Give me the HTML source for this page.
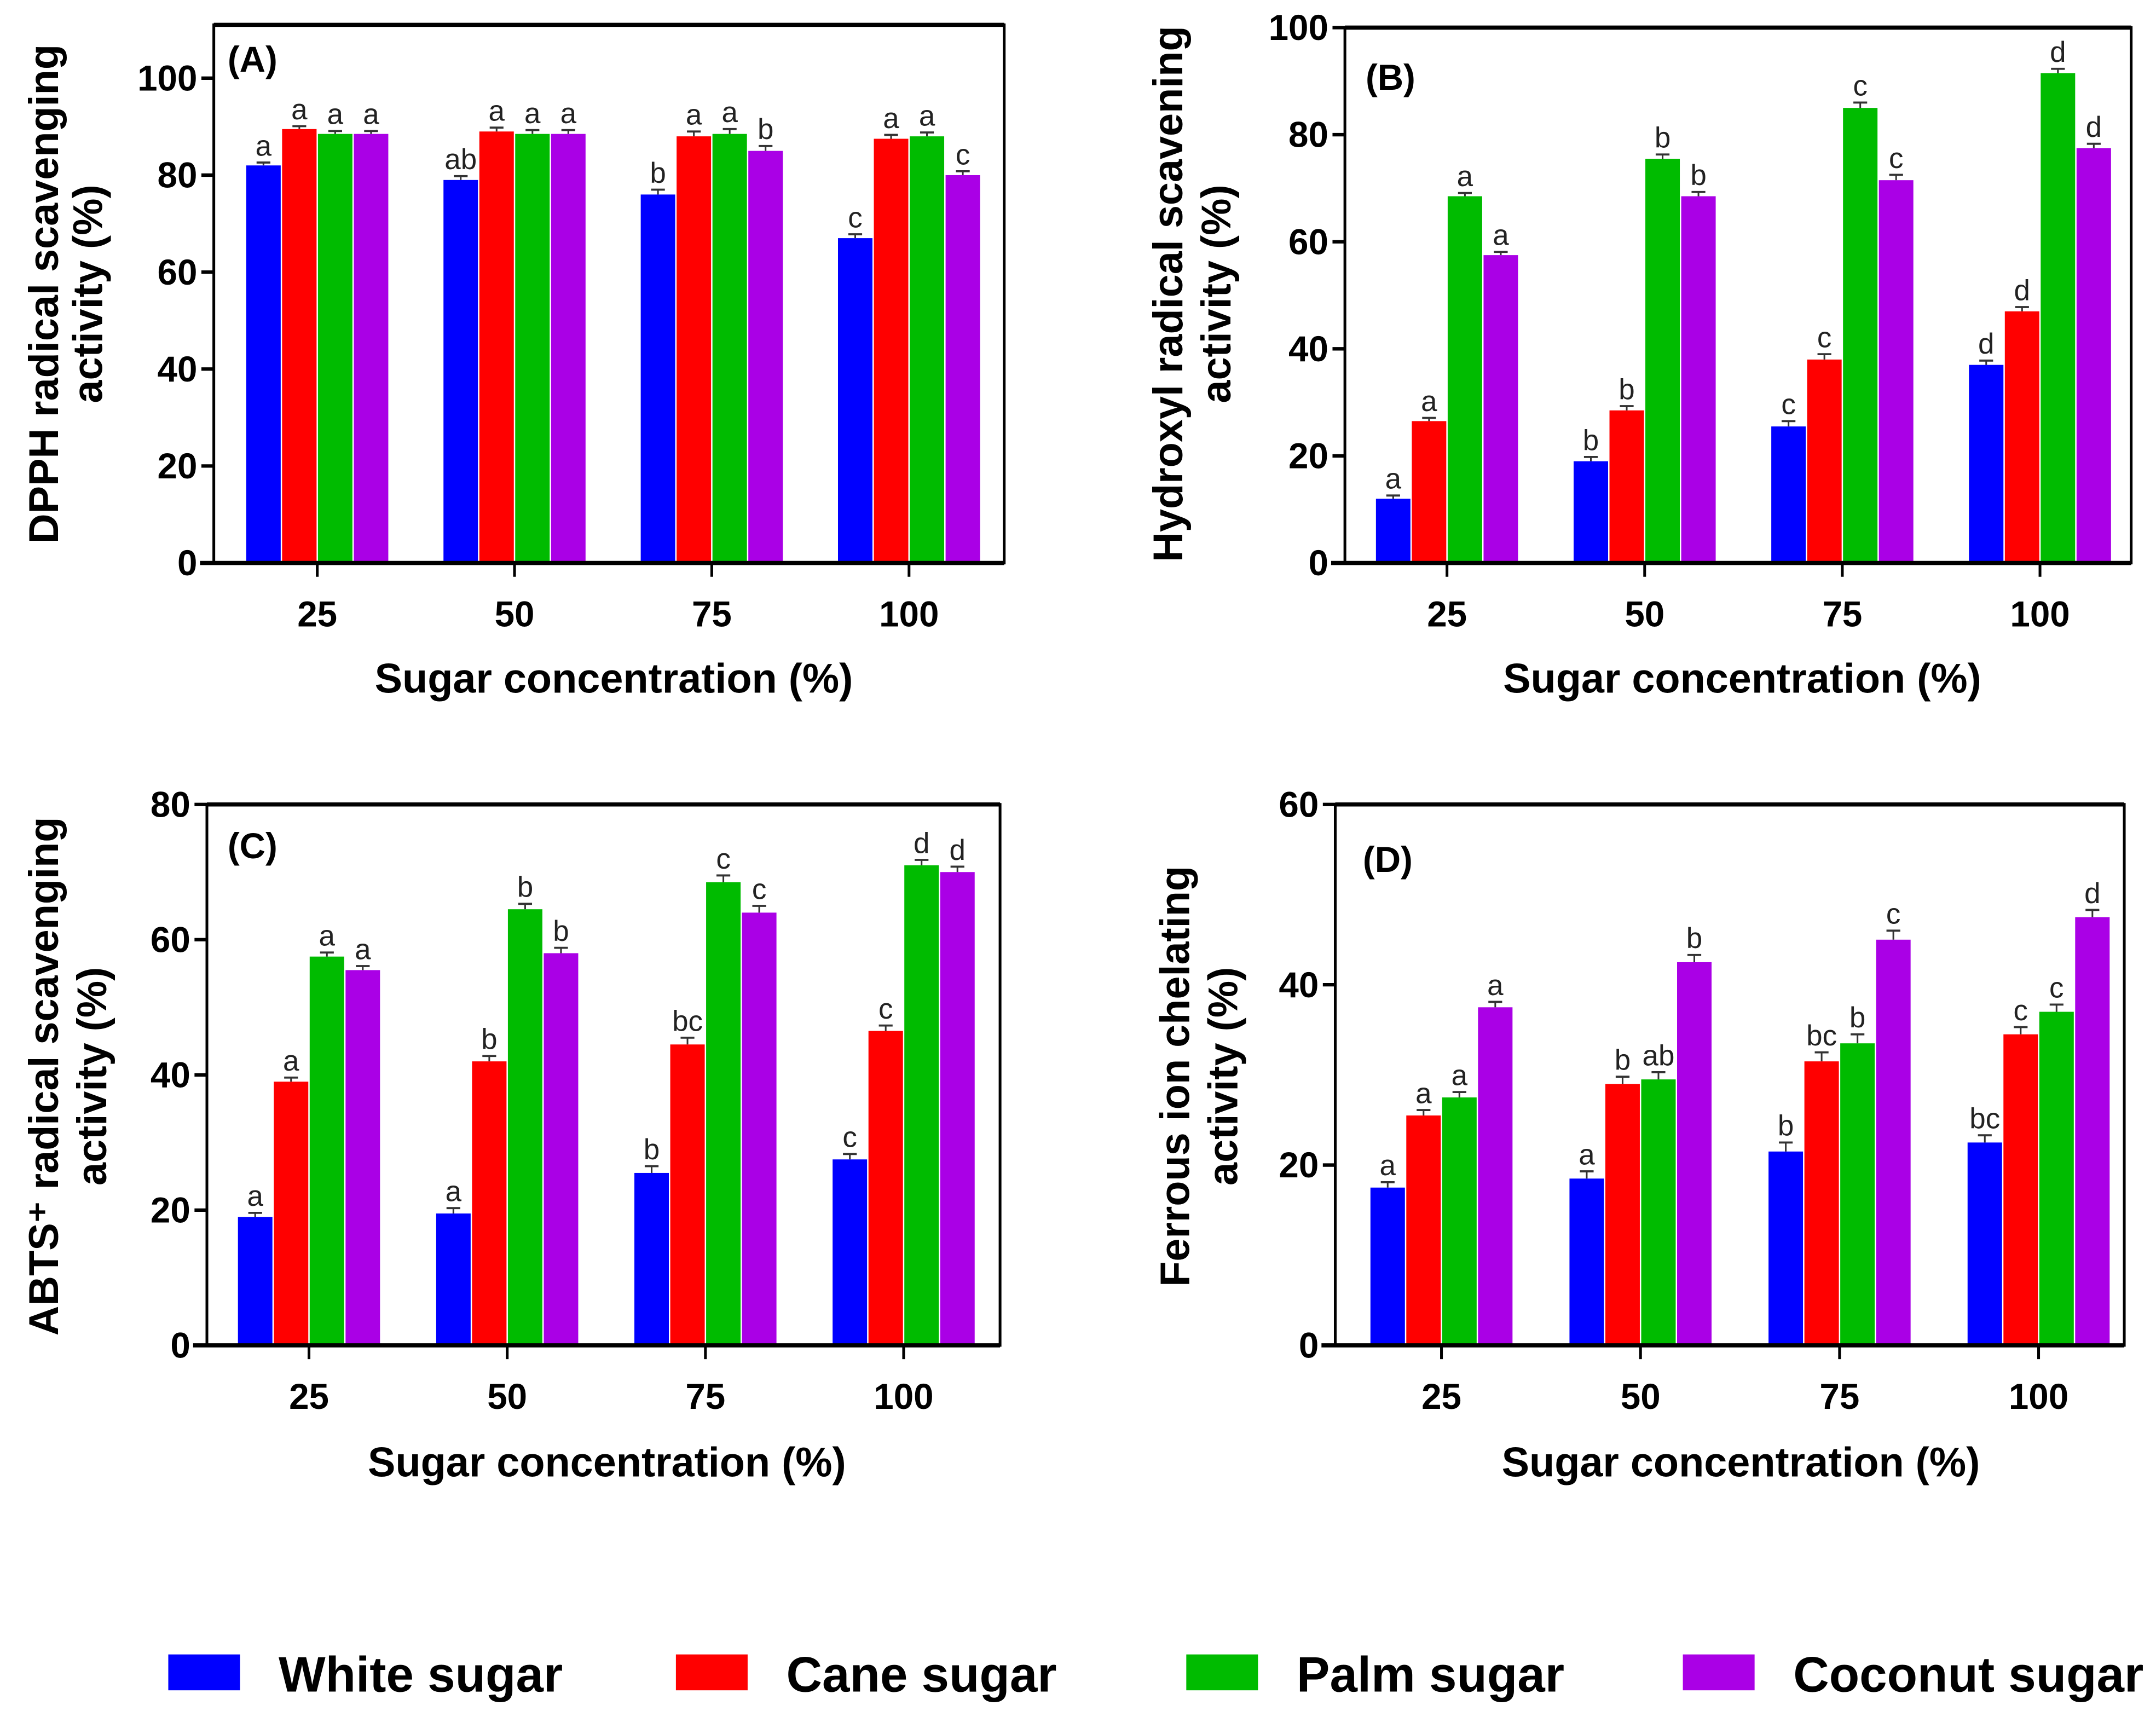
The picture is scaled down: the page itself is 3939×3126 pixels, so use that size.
<!DOCTYPE html>
<html><head><meta charset="utf-8"><style>html,body{margin:0;padding:0;background:#fff}svg{display:block}</style></head>
<body>
<svg id="fig" width="3939" height="3126" viewBox="0 0 1563 1240" preserveAspectRatio="none" xmlns="http://www.w3.org/2000/svg" font-family="Liberation Sans, Arial, sans-serif" font-weight="bold"></svg>
<script>
const categories = ["25","50","75","100"];
const seriesNames = ["White sugar","Cane sugar","Palm sugar","Coconut sugar"];
const aWhite=[82,79,76,67], aCane=[89.5,89,88,87.5], aPalm=[88.5,88.5,88.5,88], aCoco=[88.5,88.5,85,80];
const aLetters=[["a","ab","b","c"],["a","a","a","a"],["a","a","a","a"],["a","a","b","c"]];
const bWhite=[12,19,25.5,37], bCane=[26.5,28.5,38,47], bPalm=[68.5,75.5,85,91.5], bCoco=[57.5,68.5,71.5,77.5];
const bLetters=[["a","b","c","d"],["a","b","c","d"],["a","b","c","d"],["a","b","c","d"]];
const cWhite=[19,19.5,25.5,27.5], cCane=[39,42,44.5,46.5], cPalm=[57.5,64.5,68.5,71], cCoco=[55.5,58,64,70];
const cLetters=[["a","a","b","c"],["a","b","bc","c"],["a","b","c","d"],["a","b","c","d"]];
const dWhite=[17.5,18.5,21.5,22.5], dCane=[25.5,29,31.5,34.5], dPalm=[27.5,29.5,33.5,37], dCoco=[37.5,42.5,45,47.5];
const dLetters=[["a","a","b","bc"],["a","b","bc","c"],["a","ab","b","c"],["a","b","c","d"]];
const errVals=[0.6,0.8,1.0,0.8];
const aTicks=[0,20,40,60,80,100], bTicks=[0,20,40,60,80,100], cTicks=[0,20,40,60,80], dTicks=[0,20,40,60];

const colors=["#0000ff","#ff0000","#00bb00","#aa00e6"];
const NS="http://www.w3.org/2000/svg";
const svg=document.getElementById('fig');
function el(tag,attrs,parent){const e=document.createElementNS(NS,tag);for(const k in attrs)e.setAttribute(k,attrs[k]);(parent||svg).appendChild(e);return e;}

const panels=[
 {id:"a",label:"(A)",series:[aWhite,aCane,aPalm,aCoco],letters:aLetters,ticks:aTicks,ymax:111,L:155,R:728,T:18,B:408,x0:230,dx:143,lab:[165,52],yt:["DPPH radical scavenging","activity (%)"],ytx:[32,64],yc:213,xt:[445,502]},
 {id:"b",label:"(B)",series:[bWhite,bCane,bPalm,bCoco],letters:bLetters,ticks:bTicks,ymax:100,L:975,R:1545,T:20,B:408,x0:1049,dx:143.3,lab:[990,65],yt:["Hydroxyl radical scavening","activity (%)"],ytx:[847,882],yc:213,xt:[1263,502]},
 {id:"c",label:"(C)",series:[cWhite,cCane,cPalm,cCoco],letters:cLetters,ticks:cTicks,ymax:80,L:150,R:725,T:583,B:975,x0:224,dx:143.7,lab:[165,622],yt:["ABTS\u207A radical scavenging","activity (%)"],ytx:[32,67],yc:780,xt:[440,1070]},
 {id:"d",label:"(D)",series:[dWhite,dCane,dPalm,dCoco],letters:dLetters,ticks:dTicks,ymax:60,L:968,R:1540,T:583,B:975,x0:1045,dx:144.3,lab:[988,632],yt:["Ferrous ion chelating","activity (%)"],ytx:[852,887],yc:780,xt:[1262,1070]}
];

panels.forEach(p=>{
  const g=el('g',{});
  
  
  const y=v=>p.B-(v/p.ymax)*(p.B-p.T);
  const x=i=>p.x0+i*p.dx;
  const bw=26;
  p.series.forEach((s,si)=>{
    s.forEach((v,ci)=>{
      const bx=x(ci)-2*bw+si*bw;
      const r=el('rect',{x:bx+0.5,y:y(v),width:bw-1,height:p.B-y(v),fill:colors[si]},g);
      
      
      const e=errVals[ci];
      const cx=bx+bw/2;
      el('line',{x1:cx,x2:cx,y1:y(v),y2:y(v+e),stroke:'#333','stroke-width':1.2},g);
      el('line',{x1:cx-5,x2:cx+5,y1:y(v+e),y2:y(v+e),stroke:'#333','stroke-width':1.5},g);
      const t=el('text',{x:cx,y:y(v+e)-5,'text-anchor':'middle','font-size':21,'font-weight':'normal',fill:'#222'},g);
      t.textContent=p.letters[si][ci];
      
      
    });
  });
  el('rect',{x:p.L,y:p.T,width:p.R-p.L,height:p.B-p.T,fill:'none',stroke:'#000','stroke-width':2},g);
  el('line',{x1:p.L-10,x2:p.R,y1:p.B,y2:p.B,stroke:'#000','stroke-width':3},g);
  el('line',{x1:p.L,x2:p.R,y1:p.T,y2:p.T,stroke:'#000','stroke-width':3},g);
  p.ticks.forEach(tv=>{
    el('line',{x1:p.L-9,x2:p.L,y1:y(tv),y2:y(tv),stroke:'#000','stroke-width':2.5},g);
    const t=el('text',{x:p.L-12,y:y(tv)+9,'text-anchor':'end','font-size':26},g);
    t.textContent=tv;
    
    
  });
  categories.forEach((c,ci)=>{
    el('line',{x1:x(ci),x2:x(ci),y1:p.B,y2:p.B+10,stroke:'#000','stroke-width':2},g);
    const t=el('text',{x:x(ci),y:p.B+46,'text-anchor':'middle','font-size':26},g);
    t.textContent=c;
    
    
  });
  const xt=el('text',{x:p.xt[0],y:p.xt[1],'text-anchor':'middle','font-size':30},g);
  xt.textContent="Sugar concentration (%)";
  
  
  p.yt.forEach((line,li)=>{
    const t=el('text',{x:0,y:0,'text-anchor':'middle','font-size':30,transform:`translate(${p.ytx[li]+10},${p.yc}) rotate(-90)`},g);
    t.textContent=line;
    
    
  });
  const pl=el('text',{x:p.lab[0],y:p.lab[1],'font-size':26},g);
  pl.textContent=p.label;
  
  
});

const legX=[122,490,860,1220];
const lg=el('g',{});


seriesNames.forEach((n,i)=>{
  const r=el('rect',{x:legX[i],y:1199,width:52,height:26,fill:colors[i]},lg);
  
  
  const t=el('text',{x:legX[i]+80,y:1226,'font-size':36},lg);
  t.textContent=n;
  
  
});
</script>
</body></html>
